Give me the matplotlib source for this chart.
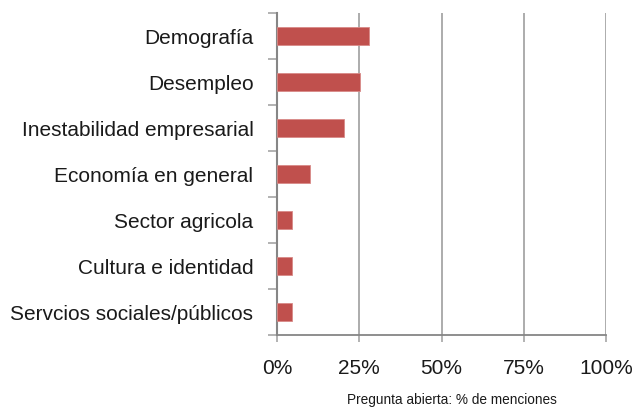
import matplotlib.pyplot as plt
import numpy as np

categories = ["Demografía", "Desempleo", "Inestabilidad empresarial", "Economía en general",
              "Sector agricola", "Cultura e identidad", "Servcios sociales/públicos"]
values = [28.0, 25.3, 20.3, 9.9, 4.7, 4.7, 4.7]
x_ticks = [0, 25, 50, 75, 100]
x_labels = ["0%", "25%", "50%", "75%", "100%"]

plt.rcParams['font.family'] = ['Liberation Sans', 'DejaVu Sans']

fig = plt.figure(figsize=(6.33, 4.07), dpi=100)
ax = fig.add_axes([277/633, 1-335/407, 329/633, 322/407])

pos = np.arange(len(categories))
ax.barh(pos, values, height=0.4, color="#C0504D", edgecolor="#D88A88", linewidth=0.6, zorder=3)
ax.set_ylim(len(categories) - 0.5, -0.5)
ax.set_xlim(0, 100)

ax.set_yticks(pos)
ax.set_yticklabels(categories, fontsize=15, color="#1a1a1a")
ax.set_yticks(np.arange(-0.5, len(categories), 1), minor=True)
ax.tick_params(axis='y', which='major', length=0, pad=17)
ax.tick_params(axis='y', which='minor', length=6.5, width=1.2, color="#A6A6A6")

ax.set_xticks(x_ticks)
ax.set_xticklabels(x_labels, fontsize=15, color="#1a1a1a")
ax.tick_params(axis='x', length=5, width=1.2, color="#A6A6A6", pad=12)

ax.grid(axis='x', color="#A6A6A6", linewidth=1.3, zorder=0)
for side in ["top", "right"]:
    ax.spines[side].set_visible(False)
ax.spines["left"].set_color("#868686")
ax.spines["left"].set_linewidth(1.5)
ax.spines["bottom"].set_color("#868686")
ax.spines["bottom"].set_linewidth(1.3)

fig.text(452/633, 1-400/407, "Pregunta abierta: % de menciones", fontsize=9.8,
         ha="center", va="center", color="#1a1a1a")

plt.savefig("out.png", dpi=100)
